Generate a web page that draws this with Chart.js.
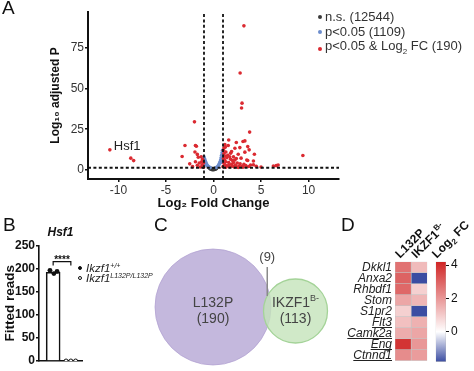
<!DOCTYPE html>
<html>
<head>
<meta charset="utf-8">
<script src="https://cdn.jsdelivr.net/npm/chart.js@4.4.1/dist/chart.umd.min.js"></script>
<style>
  body { margin: 0; background: #fff; font-family: 'Liberation Sans', Arial, sans-serif; color: #222; }
  #wrap { position: relative; width: 474px; height: 371px; overflow: hidden; }
  canvas { position: absolute; }
  .letter { position: absolute; font-size: 19px; line-height: 1; color: #111; }
  .legend { position: absolute; font-size: 13px; line-height: 14.5px; color: #333; white-space: nowrap; }
  .legend .row { display: flex; align-items: center; }
  .legend .dot { width: 4px; height: 4px; border-radius: 50%; margin-right: 3px; }
  .legB { position: absolute; font-size: 11.5px; font-style: italic; line-height: 10px; color: #222; white-space: nowrap; }
  .legB .row { display: flex; align-items: center; height: 10px; }
  .legB .sym { width: 4px; height: 4px; border-radius: 50%; margin-right: 4px; box-sizing: border-box; }
  .legB sup { font-size: 7px; vertical-align: 4px; line-height: 0; }
</style>
</head>
<body>
<div id="wrap">
  <canvas id="chartA" width="474" height="215" style="left:0;top:0"></canvas>
  <canvas id="chartB" width="160" height="156" style="left:0;top:215px"></canvas>
  <canvas id="chartC" width="190" height="156" style="left:150px;top:215px"></canvas>
  <canvas id="chartD" width="134" height="156" style="left:340px;top:215px"></canvas>
  <canvas id="chartD2" width="49" height="156" style="left:425px;top:215px"></canvas>
  <div class="letter" style="left:2px;top:-2px">A</div>
  <div class="letter" style="left:3px;top:215px">B</div>
  <div class="letter" style="left:154px;top:215px">C</div>
  <div class="letter" style="left:341px;top:215px">D</div>
  <div id="legA" class="legend" style="left:318px;top:10px"></div>
  <div id="legB" class="legB" style="left:78px;top:263px"></div>
</div>
<script>
// ---- A: volcano plot (Log2 FC, -log10 adjusted P) ----
const notSig = [[-0.4,0.8],[-0.3,0.5],[-0.2,0.3],[-0.1,0.1],[0,0.05],[0.1,0.2],[0.2,0.4],[0.3,0.7],
  [-0.15,0.6],[0.15,0.9],[0.05,0.5],[-0.25,1.0],[0.25,1.1]];
const sigP = [[-1.0,8],[-0.95,7],[-0.9,6],[-0.85,5.2],[-0.8,4.4],[-0.75,3.8],[-0.7,3.2],[-0.65,2.7],
  [-0.6,2.3],[-0.5,1.9],[-0.45,1.6],[-0.35,1.4],[-0.9,4],[-0.8,3],[-0.95,3.5],
  [0.3,1.5],[0.4,1.9],[0.5,2.5],[0.55,3],[0.6,3.6],[0.65,4.3],[0.7,5],[0.75,6],[0.8,7.5],
  [0.85,9],[0.9,10.5],[0.95,12],[0.9,7],[0.8,4.5],[0.95,5.5]];
// first point is Hsf1
const sigFC = [[-10.9,12.3],[-8.7,7.2],[-8.4,5.7],[-3.3,8.2],[-3.0,15],[-2.5,3.7],[-2.0,29.5],
  [-1.9,15],[-1.8,14.5],[-1.95,11],[-1.7,9.5],[-1.6,7.8],[-1.3,8],[-1.15,6.5],[-1.9,5],[-1.5,4.2],
  [-1.2,3.2],[-1.7,2.8],[-1.1,2.2],[-1.4,1.8],[-1.05,1.6],[-2.2,2.0],[-1.25,5.0],[-1.05,4.3],
  [3.2,88.5],[2.8,59.5],[3.0,41],[2.95,38],[3.8,23.2],[1.6,18.4],[2.4,16.8],[3.1,17.4],[3.3,17.8],
  [1.55,15],[1.2,15.5],[2.25,13.3],[2.77,13.7],[3.6,14.3],[3.75,12.3],[1.9,11.3],[2.6,9.6],
  [3.3,10.9],[4.3,9.6],[2.9,7.2],[3.5,6.1],[3.6,5.8],[2.25,6.1],[4.2,5.5],[6.6,2.6],[6.8,3.0],
  [6.3,2.4],[9.4,8.8],[4.2,3.2],[2.0,5.8],[1.05,12],[1.1,10],[1.2,8.5],[1.3,11],[1.05,7],
  [1.15,6],[1.4,7.5],[1.5,9],[1.7,8],[1.8,6.5],[1.3,5],[1.6,4.5],[1.1,4],[1.2,3],[1.4,2.5],
  [1.9,3.5],[2.1,4.5],[2.3,3],[2.5,4.2],[2.7,2.4],[2.8,3.8],[3.0,2.2],[3.2,3.4],[3.4,2.6],
  [3.7,2.1],[3.9,3.0],[4.5,2.2],[5.0,1.8],[1.0,2],[1.3,1.6],[1.7,1.8],[2.2,1.7],[2.6,1.5],
  [3.1,1.6],[1.6,2.8],[2.0,2.2],[2.4,2.0],[1.8,10.2],[2.1,8],[2.4,7],[1.1,13.5],[1.25,14]];
const volcanoLabels = ['n.s. (12544)', 'p<0.05 (1109)', 'p<0.05 & Log2 FC (190)'];
const volcanoGene = 'Hsf1';
const fcCut = 1;
const pCut = 1.3;
const volcanoXTicks = [-10, -5, 0, 5, 10];
const volcanoYTicks = [0, 25, 50, 75];

// ---- B: Hsf1 fitted reads ----
const hsf1Gene = 'Ikzf1';
const hsf1Genotypes = ['+/+', 'L132P/L132P'];
const hsf1Means = [192, 0];
const hsf1Reps = [[196, 189, 194], [0, 0, 0]];
const hsf1Jitter = [[-0.18, 0.04, 0.22], [-0.27, 0, 0.27]];
const hsf1YTicks = [0, 50, 100, 150, 200, 250];
const hsf1Sig = '****';

// ---- C: overlap ----
const vennSets = ['L132P', 'IKZF1'];
const vennSup = ['', 'B-'];
const vennCounts = [190, 113];
const vennOverlap = 9;

// ---- D: heatmap of Log2 FC ----
const genes = ['Dkkl1', 'Anxa2', 'Rhbdf1', 'Stom', 'S1pr2', 'Flt3', 'Camk2a', 'Eng', 'Ctnnd1'];
const underlinedGenes = ['Flt3', 'Camk2a', 'Eng', 'Ctnnd1'];
const heatCols = ['L132P', 'IKZF1'];
const heatColSup = ['', 'B-'];
const fcL132P = [2.7, 3.0, 2.9, 1.7, 0.9, 1.2, 1.6, 3.9, 2.2];
const fcIKZF1 = [1.3, -1.8, 0.9, 1.4, -1.8, 1.5, 1.7, 2.0, 1.9];
const cbarRange = [-1.8, 4.2];
const cbarTicks = [0, 2, 4];

Chart.defaults.font.family = "'Liberation Sans', Arial, sans-serif";
Chart.defaults.color = '#222';

const toXY = a => a.map(p => ({x: p[0], y: p[1]}));
const fixedTicks = values => axis => { axis.ticks = values.map(v => ({value: v})); };
const noUi = {legend: {display: false}, tooltip: {enabled: false}};

// ---------- A ----------
const volX = [-13.2, 13.2];
const volY = [-5.6, 97];
const volColors = ['#3a3a3a', '#6c8dcd', '#db2a31'];
const dashLine = pts => ({type: 'line', data: pts, borderColor: '#111', borderWidth: 1.8,
  borderDash: [3, 2.4], pointRadius: 0, fill: false, order: 0});
const pts = (label, data, color, order) => ({label, data: toXY(data), backgroundColor: color,
  pointRadius: 1.8, pointBorderWidth: 0, order});

const volcanoText = {
  id: 'volcanoText',
  afterDatasetsDraw(chart) {
    const {ctx, scales: {x, y}} = chart;
    const p = sigFC[0];
    ctx.save();
    ctx.font = "13px 'Liberation Sans', Arial";
    ctx.fillStyle = '#222';
    ctx.fillText(volcanoGene, x.getPixelForValue(p[0]) + 4, y.getPixelForValue(p[1]) + 0.5);
    ctx.restore();
  }
};

new Chart(document.getElementById('chartA'), {
  type: 'scatter',
  data: {
    datasets: [
      pts(volcanoLabels[2], sigFC, volColors[2], 1),
      pts(volcanoLabels[1], sigP, volColors[1], 2),
      pts(volcanoLabels[0], notSig, volColors[0], 3),
      dashLine([{x: -fcCut, y: volY[0]}, {x: -fcCut, y: volY[1]}]),
      dashLine([{x: fcCut, y: volY[0]}, {x: fcCut, y: volY[1]}]),
      dashLine([{x: volX[0], y: pCut}, {x: volX[1], y: pCut}])
    ]
  },
  options: {
    responsive: false,
    animation: false,
    layout: {padding: {left: 48, right: 135, top: 12, bottom: 4}},
    plugins: noUi,
    scales: {
      x: {
        type: 'linear', min: volX[0], max: volX[1],
        afterBuildTicks: fixedTicks(volcanoXTicks),
        grid: {display: true, drawOnChartArea: false, tickLength: 3, color: '#111', lineWidth: 1.5},
        border: {display: true, color: '#111', width: 2},
        ticks: {color: '#333', font: {size: 12}, padding: 1, maxRotation: 0},
        title: {display: true, text: 'Log₂ Fold Change', color: '#111', font: {size: 13, weight: 'bold'}, padding: {top: 2, bottom: 0}},
        afterFit: s => { s.height = 32; }
      },
      y: {
        type: 'linear', min: volY[0], max: volY[1],
        afterBuildTicks: fixedTicks(volcanoYTicks),
        grid: {display: true, drawOnChartArea: false, tickLength: 3, color: '#111', lineWidth: 1.5},
        border: {display: true, color: '#111', width: 2},
        ticks: {color: '#333', font: {size: 12}, padding: 1},
        title: {display: true, text: 'Log₁₀ adjusted P', color: '#111', font: {size: 12, weight: 'bold'}, padding: 0},
        afterFit: s => { s.width = 40; }
      }
    }
  },
  plugins: [volcanoText]
});

// html legend for A
const legA = document.getElementById('legA');
[0, 1, 2].forEach(i => {
  const row = document.createElement('div');
  row.className = 'row';
  const dot = document.createElement('span');
  dot.className = 'dot';
  dot.style.background = volColors[i];
  row.appendChild(dot);
  const txt = document.createElement('span');
  const parts = volcanoLabels[i].split('Log2');
  txt.appendChild(document.createTextNode(parts[0]));
  if (parts.length > 1) {
    txt.appendChild(document.createTextNode('Log'));
    const sub = document.createElement('sub');
    sub.textContent = '2';
    sub.style.fontSize = '8px';
    txt.appendChild(sub);
    txt.appendChild(document.createTextNode(parts[1]));
  }
  row.appendChild(txt);
  legA.appendChild(row);
});

// ---------- B ----------
const bX = [0.2, 2.63];
const sigBracket = {
  id: 'sigBracket',
  afterDatasetsDraw(chart) {
    const {ctx, scales: {x, y}} = chart;
    const x1 = x.getPixelForValue(1), x2 = x.getPixelForValue(2);
    const yb = y.getPixelForValue(hsf1Means[0] + 23);
    ctx.save();
    ctx.strokeStyle = '#111';
    ctx.lineWidth = 1.2;
    ctx.beginPath();
    ctx.moveTo(x1, yb + 4); ctx.lineTo(x1, yb); ctx.lineTo(x2, yb); ctx.lineTo(x2, yb + 4);
    ctx.stroke();
    ctx.fillStyle = '#111';
    ctx.font = "bold 10px 'Liberation Sans', Arial";
    ctx.textAlign = 'center';
    ctx.fillText(hsf1Sig, (x1 + x2) / 2, yb + 1);
    ctx.restore();
  }
};

new Chart(document.getElementById('chartB'), {
  type: 'bar',
  data: {
    datasets: [
      {type: 'bar', label: 'mean', data: hsf1Means.map((m, i) => ({x: i + 1, y: m})),
        backgroundColor: '#fff', borderColor: '#111', borderWidth: 1.6, barThickness: 14,
        borderSkipped: 'bottom', order: 3},
      {type: 'scatter', label: hsf1Gene + hsf1Genotypes[0],
        data: hsf1Reps[0].map((v, k) => ({x: 1 + hsf1Jitter[0][k], y: v})),
        backgroundColor: '#111', pointRadius: 2.4, pointBorderWidth: 0, order: 1},
      {type: 'scatter', label: hsf1Gene + hsf1Genotypes[1],
        data: hsf1Reps[1].map((v, k) => ({x: 2 + hsf1Jitter[1][k], y: v})),
        backgroundColor: '#fff', borderColor: '#111', pointBorderWidth: 1, pointRadius: 2, order: 1}
    ]
  },
  options: {
    responsive: false,
    animation: false,
    layout: {padding: {left: 2, right: 78, top: 2, bottom: 10}},
    plugins: Object.assign({}, noUi, {
      title: {display: true, text: 'Hsf1', fullSize: false, color: '#111',
        font: {size: 12, weight: 'bold', style: 'italic'}, padding: {top: 8, bottom: 6}}
    }),
    scales: {
      x: {
        type: 'linear', min: bX[0], max: bX[1], offset: false,
        grid: {display: false}, ticks: {display: false},
        border: {display: true, color: '#111', width: 1.6},
        afterFit: s => { s.height = 0; }
      },
      y: {
        min: 0, max: 250,
        afterBuildTicks: fixedTicks(hsf1YTicks),
        grid: {display: true, drawOnChartArea: false, tickLength: 3, color: '#111', lineWidth: 1.5},
        border: {display: true, color: '#111', width: 1.6},
        ticks: {color: '#111', font: {size: 12, weight: 'bold'}, padding: 1},
        title: {display: true, text: 'Fitted reads', color: '#111', font: {size: 13.5, weight: 'bold'}, padding: 0},
        afterFit: s => { s.width = 37; }
      }
    }
  },
  plugins: [sigBracket]
});

const legB = document.getElementById('legB');
hsf1Genotypes.forEach((g, i) => {
  const row = document.createElement('div');
  row.className = 'row';
  const sym = document.createElement('span');
  sym.className = 'sym';
  sym.style.background = i === 0 ? '#111' : '#fff';
  sym.style.border = '1px solid #111';
  row.appendChild(sym);
  const txt = document.createElement('span');
  txt.appendChild(document.createTextNode(hsf1Gene));
  const sup = document.createElement('sup');
  sup.textContent = g;
  txt.appendChild(sup);
  row.appendChild(txt);
  legB.appendChild(row);
});

// ---------- C ----------
const vennLayout = [{cx: 63, cy: 92, r: 58}, {cx: 145.5, cy: 96, r: 32}];
const vennText = {
  id: 'vennText',
  afterDatasetsDraw(chart) {
    const {ctx} = chart;
    const els = chart.getDatasetMeta(0).data;
    const a = els[0], b = els[1];
    const cy = b.y;
    ctx.save();
    ctx.fillStyle = '#444';
    ctx.textBaseline = 'middle';
    const big = "14px 'Liberation Sans', Arial";
    const small = "9px 'Liberation Sans', Arial";
    els.forEach((el, i) => {
      ctx.font = big;
      const w = ctx.measureText(vennSets[i]).width;
      ctx.font = small;
      const ws = vennSup[i] ? ctx.measureText(vennSup[i]).width : 0;
      ctx.font = big;
      ctx.textAlign = 'left';
      const x0 = el.x - (w + ws) / 2;
      ctx.fillText(vennSets[i], x0, cy - 8);
      if (ws) {
        ctx.font = small;
        ctx.fillText(vennSup[i], x0 + w, cy - 12);
        ctx.font = big;
      }
      ctx.textAlign = 'center';
      ctx.fillText('(' + vennCounts[i] + ')', el.x, cy + 8);
    });
    // overlap callout
    const ox = ((a.x + vennLayout[0].r) + (b.x - vennLayout[1].r)) / 2;
    ctx.strokeStyle = '#8a8a8a';
    ctx.lineWidth = 1.5;
    ctx.beginPath();
    ctx.moveTo(ox, b.y - 44);
    ctx.lineTo(ox, b.y - 15);
    ctx.stroke();
    ctx.font = "13px 'Liberation Sans', Arial";
    ctx.textAlign = 'center';
    ctx.fillText('(' + vennOverlap + ')', ox, b.y - 54);
    ctx.restore();
  }
};

new Chart(document.getElementById('chartC'), {
  type: 'bubble',
  data: {
    datasets: [{
      data: vennLayout.map(c => ({x: c.cx, y: c.cy, r: c.r})),
      backgroundColor: ['rgba(190,176,217,0.9)', 'rgba(196,228,186,0.8)'],
      borderColor: ['rgba(175,158,208,0.7)', '#a4d398'],
      borderWidth: [1, 1.3],
      clip: false
    }]
  },
  options: {
    responsive: false,
    animation: false,
    layout: {padding: 0, autoPadding: false},
    plugins: noUi,
    scales: {
      x: {display: false, min: 0, max: 190},
      y: {display: false, min: 0, max: 156, reverse: true}
    }
  },
  plugins: [vennText]
});

// ---------- D ----------
const blue = [59, 77, 162], red = [208, 36, 36];
function fcColor(v) {
  const end = v < 0 ? blue : red;
  const t = v < 0 ? Math.min(1, v / cbarRange[0]) : Math.min(1, v / cbarRange[1]);
  const c = end.map(e => Math.round(255 + (e - 255) * t));
  return 'rgb(' + c.join(',') + ')';
}
const heatVals = [fcL132P, fcIKZF1];

const rotatedLabel = (ctx, x, y, main, sup, font, supFont) => {
  ctx.save();
  ctx.translate(x, y);
  ctx.rotate(-Math.PI / 4);
  ctx.font = font;
  ctx.textAlign = 'left';
  ctx.fillText(main, 0, 0);
  if (sup) {
    const w = ctx.measureText(main).width;
    ctx.font = supFont;
    ctx.fillText(sup, w + 0.5, -5);
  }
  ctx.restore();
};

const heatDecor = {
  id: 'heatDecor',
  afterDraw(chart) {
    const {ctx, chartArea, scales: {x, y}} = chart;
    ctx.save();
    ctx.fillStyle = '#111';
    heatCols.forEach((c, ci) => {
      rotatedLabel(ctx, x.getPixelForValue(ci + 0.5) - 3, chartArea.top - 3, c, heatColSup[ci],
        "bold 12px 'Liberation Sans', Arial", "bold 8px 'Liberation Sans', Arial");
    });
    ctx.font = "italic 12px 'Liberation Sans', Arial";
    ctx.strokeStyle = '#222';
    ctx.lineWidth = 1;
    genes.forEach((g, i) => {
      if (!underlinedGenes.includes(g)) return;
      const w = ctx.measureText(g).width;
      const yy = Math.round(y.getPixelForTick(i) + 5) + 0.5;
      const right = chartArea.left - 3;
      ctx.beginPath();
      ctx.moveTo(right - w, yy);
      ctx.lineTo(right, yy);
      ctx.stroke();
    });
    ctx.restore();
  }
};

new Chart(document.getElementById('chartD'), {
  type: 'bar',
  data: {
    labels: genes,
    datasets: heatCols.map((c, ci) => ({
      label: c,
      data: genes.map(() => [ci, ci + 1]),
      backgroundColor: heatVals[ci].map(fcColor),
      borderColor: '#c4c4c4',
      borderWidth: 0.6,
      borderSkipped: false,
      barPercentage: 1,
      categoryPercentage: 1,
      grouped: false
    }))
  },
  options: {
    indexAxis: 'y',
    responsive: false,
    animation: false,
    layout: {padding: {left: 0, right: 46.7, top: 46.7, bottom: 3.3}},
    plugins: noUi,
    scales: {
      x: {type: 'linear', min: 0, max: 2, display: false},
      y: {
        grid: {display: false, drawTicks: false, tickLength: 0},
        border: {display: false},
        ticks: {color: '#222', font: {size: 12, style: 'italic'}, padding: 3, autoSkip: false},
        afterFit: s => { s.width = 55; }
      }
    }
  },
  plugins: [heatDecor]
});

// colour bar
const cbarFill = c => {
  const ch = c.chart, ys = ch.scales.y;
  if (!ch.chartArea || !ys) return '#fff';
  const g = ch.ctx.createLinearGradient(0, ys.getPixelForValue(cbarRange[0]), 0, ys.getPixelForValue(cbarRange[1]));
  const z = -cbarRange[0] / (cbarRange[1] - cbarRange[0]);
  g.addColorStop(0, fcColor(cbarRange[0]));
  g.addColorStop(z, '#fff');
  g.addColorStop(1, fcColor(cbarRange[1]));
  return g;
};
const cbarTitle = {
  id: 'cbarTitle',
  afterDraw(chart) {
    const {ctx, chartArea} = chart;
    ctx.save();
    ctx.fillStyle = '#111';
    const cx = (chartArea.left + chartArea.right) / 2;
    ctx.translate(cx - 4, chartArea.top - 3);
    ctx.rotate(-Math.PI / 4);
    ctx.font = "bold 12px 'Liberation Sans', Arial";
    ctx.fillText('Log', 0, 0);
    let w = ctx.measureText('Log').width;
    ctx.font = "bold 8px 'Liberation Sans', Arial";
    ctx.fillText('2', w + 0.5, 3);
    w += ctx.measureText('2').width + 1;
    ctx.font = "bold 12px 'Liberation Sans', Arial";
    ctx.fillText(' FC', w, 0);
    ctx.restore();
  }
};

new Chart(document.getElementById('chartD2'), {
  type: 'bar',
  data: {
    labels: ['Log2 FC'],
    datasets: [{data: [cbarRange.slice()], backgroundColor: cbarFill, borderColor: '#b0b0b0',
      borderWidth: 0.6, borderSkipped: false, barPercentage: 1, categoryPercentage: 1}]
  },
  options: {
    responsive: false,
    animation: false,
    layout: {padding: {left: 10.7, right: 0, top: 46.7, bottom: 3.3}},
    plugins: noUi,
    scales: {
      x: {display: false},
      y: {
        position: 'right', min: cbarRange[0], max: cbarRange[1],
        afterBuildTicks: fixedTicks(cbarTicks),
        grid: {display: true, drawOnChartArea: false, tickLength: 3, color: '#111'},
        border: {display: false},
        ticks: {color: '#111', font: {size: 12}, padding: 2},
        afterFit: s => { s.width = 28; }
      }
    }
  },
  plugins: [cbarTitle]
});
</script>
</body>
</html>
